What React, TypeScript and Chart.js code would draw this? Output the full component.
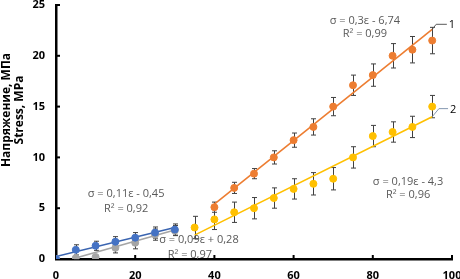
import React, { useEffect, useRef } from "react";
import { Chart, registerables } from "chart.js";

Chart.register(...registerables);

// Series 1 (orange)
const strain1 = [40, 45, 50, 55, 60, 65, 70, 75, 80, 85, 90, 95];
const stress1 = [5.1, 7.0, 8.4, 10.0, 11.7, 13.0, 15.0, 17.1, 18.1, 20.0, 20.6, 21.5];
const err1 = [0.5, 0.55, 0.5, 0.65, 0.7, 0.8, 0.9, 1.0, 1.1, 1.2, 1.3, 1.3];
const trendX1 = [40, 95];
const trendY1 = [5.4, 22.6];

// Series 2 (yellow)
const strain2 = [35, 40, 45, 50, 55, 60, 65, 70, 75, 80, 85, 90, 95];
const stress2 = [3.1, 3.9, 4.6, 5.0, 6.0, 6.9, 7.4, 7.9, 10.0, 12.1, 12.5, 13.0, 15.0];
const err2 = [1.1, 1.0, 1.0, 1.05, 1.0, 1.0, 1.1, 1.1, 1.05, 1.05, 1.0, 1.05, 1.1];
const trendX2 = [35, 95];
const trendY2 = [2.35, 14.0];

// Series 3 (blue)
const strain3 = [0, 5, 10, 15, 20, 25, 30];
const stress3 = [0, 0.9, 1.3, 1.7, 2.1, 2.6, 2.9];
const err3 = [0, 0.5, 0.45, 0.5, 0.5, 0.55, 0.55];
const trendX3 = [0, 30];
const trendY3 = [0.25, 3.1];

// Series 4 (gray)
const strain4 = [0, 5, 10, 15, 20, 25, 30];
const stress4 = [0, 0.1, 0.2, 1.1, 1.6, 2.4, 2.8];
const err4 = [0, 0.15, 0.15, 0.5, 0.6, 0.55, 0.5];
const trendX4 = [4.5, 30];
const trendY4 = [0.05, 2.85];

const xTicks = [0, 20, 40, 60, 80, 100];
const yTicks = [0, 5, 10, 15, 20, 25];

const yTitle = ["Напряжение, МПа", "Stress, MPa"];

// equation labels: text, anchor x, anchor y (data units)
const eqTexts = ["σ = 0,3ε - 6,74", "R² = 0,99", "σ = 0,11ε - 0,45", "R² = 0,92", "σ = 0,09ε + 0,28", "R² = 0,97", "σ = 0,19ε - 4,3", "R² = 0,96"];
const eqX = [78, 78, 17.7, 17.7, 36.1, 33.8, 88.9, 88.9];
const eqY = [23.4, 22.15, 6.4, 4.9, 1.85, 0.4, 7.55, 6.3];

const toPts = (xs: number[], ys: number[]) => xs.map((x, i) => ({ x, y: ys[i] }));

const ORANGE = "#ED7D31";
const YELLOW = "#FFC000";
const BLUE = "#4472C4";
const GRAY = "#A5A5A5";
const FONT = "'Open Sans', 'DejaVu Sans', sans-serif";

export default function App() {
  const ref = useRef<HTMLCanvasElement | null>(null);

  useEffect(() => {
    if (!ref.current) return;

    const errSets = [
      { xs: strain1, ys: stress1, es: err1 },
      { xs: strain2, ys: stress2, es: err2 },
      { xs: strain3, ys: stress3, es: err3 },
      { xs: strain4, ys: stress4, es: err4 },
    ];

    const plugin = {
      id: "extras",
      beforeDatasetsDraw(chart: any) {
        const { ctx, scales } = chart;
        const sx = scales.x, sy = scales.y;
        ctx.save();
        ctx.strokeStyle = "#404040";
        ctx.lineWidth = 1;
        errSets.forEach((s) => {
          s.xs.forEach((xv, i) => {
            const e = s.es[i];
            if (!e) return;
            const px = Math.round(sx.getPixelForValue(xv)) + 0.5;
            const t = sy.getPixelForValue(s.ys[i] + e);
            const b = sy.getPixelForValue(Math.max(0, s.ys[i] - e));
            ctx.beginPath();
            ctx.moveTo(px, t);
            ctx.lineTo(px, b);
            ctx.moveTo(px - 2.5, t);
            ctx.lineTo(px + 2.5, t);
            ctx.moveTo(px - 2.5, b);
            ctx.lineTo(px + 2.5, b);
            ctx.stroke();
          });
        });
        ctx.restore();
      },
      afterDraw(chart: any) {
        const { ctx, scales, chartArea } = chart;
        const sx = scales.x, sy = scales.y;
        ctx.save();
        // inside tick marks
        ctx.strokeStyle = "#000";
        ctx.lineWidth = 2;
        xTicks.forEach((v) => {
          const px = sx.getPixelForValue(v);
          if (v === 0) return;
          ctx.beginPath();
          ctx.moveTo(px, chartArea.bottom);
          ctx.lineTo(px, chartArea.bottom - 4);
          ctx.stroke();
        });
        yTicks.forEach((v) => {
          const py = sy.getPixelForValue(v);
          if (v === 0) return;
          ctx.beginPath();
          ctx.moveTo(chartArea.left, py);
          ctx.lineTo(chartArea.left + 4, py);
          ctx.stroke();
        });

        // equations
        ctx.fillStyle = "#595959";
        ctx.font = `11px ${FONT}`;
        ctx.textAlign = "center";
        ctx.textBaseline = "middle";
        eqTexts.forEach((t, i) => {
          ctx.fillText(t, sx.getPixelForValue(eqX[i]), sy.getPixelForValue(eqY[i]));
        });

        // callouts
        const callout = (x0: number, y0: number, x1: number, y1: number, x2: number, label: string, color: string) => {
          ctx.strokeStyle = color;
          ctx.lineWidth = 1;
          ctx.beginPath();
          ctx.moveTo(sx.getPixelForValue(x0), sy.getPixelForValue(y0));
          ctx.lineTo(sx.getPixelForValue(x1), sy.getPixelForValue(y1));
          ctx.lineTo(sx.getPixelForValue(x2), sy.getPixelForValue(y1));
          ctx.stroke();
          ctx.fillStyle = "#000";
          ctx.textAlign = "left";
          ctx.fillText(label, sx.getPixelForValue(x2) + 2, sy.getPixelForValue(y1) + 1);
        };
        callout(trendX1[1], trendY1[1], 96, 23.1, 98.7, "1", "#595959");
        callout(trendX2[1], trendY2[1], 96.7, 14.8, 99, "2", "#8497B0");

        // y title
        ctx.fillStyle = "#000";
        ctx.font = `bold 12px ${FONT}`;
        ctx.textAlign = "center";
        ctx.textBaseline = "middle";
        ctx.translate(0, 110);
        ctx.rotate(-Math.PI / 2);
        ctx.fillText(yTitle[0], 0, 7);
        ctx.fillText(yTitle[1], 0, 20);
        ctx.restore();
      },
    };

    const markerDs = (label: string, xs: number[], ys: number[], color: string) => ({
      type: "scatter" as const,
      label,
      data: toPts(xs, ys),
      backgroundColor: color,
      borderColor: color,
      pointRadius: 3.5,
      pointBorderWidth: 1,
      showLine: false,
      order: 1,
    });
    const trendDs = (label: string, xs: number[], ys: number[], color: string) => ({
      type: "scatter" as const,
      label,
      data: toPts(xs, ys),
      borderColor: color,
      backgroundColor: color,
      borderWidth: 1.6,
      pointRadius: 0,
      showLine: true,
      order: 2,
    });

    const chart = new Chart(ref.current, {
      type: "scatter",
      data: {
        datasets: [
          markerDs("1", strain1, stress1, ORANGE),
          markerDs("2", strain2, stress2, YELLOW),
          markerDs("3", strain3, stress3, BLUE),
          markerDs("4", strain4, stress4, GRAY),
          trendDs("t1", trendX1, trendY1, ORANGE),
          trendDs("t2", trendX2, trendY2, YELLOW),
          trendDs("t3", trendX3, trendY3, "#3A64B0"),
          trendDs("t4", trendX4, trendY4, GRAY),
        ] as any,
      },
      options: {
        animation: false,
        responsive: false,
        layout: { padding: { left: 0, right: 8, top: 4, bottom: 0 } },
        plugins: { legend: { display: false }, tooltip: { enabled: false }, title: { display: false } },
        scales: {
          x: {
            type: "linear",
            min: 0,
            max: 100,
            afterBuildTicks: (s: any) => { s.ticks = xTicks.map((v) => ({ value: v })); },
            ticks: { color: "#000", font: { family: FONT, size: 11, weight: "bold" }, padding: 10, maxRotation: 0 },
            grid: { display: false, drawTicks: false },
            border: { display: true, color: "#000", width: 2.5 },
            afterFit: (s: any) => { s.height = 20; s.paddingLeft = 0; s.paddingRight = 0; },
          },
          y: {
            type: "linear",
            min: 0,
            max: 25,
            afterBuildTicks: (s: any) => { s.ticks = yTicks.map((v) => ({ value: v })); },
            ticks: { color: "#000", font: { family: FONT, size: 11, weight: "bold" }, padding: 11 },
            grid: { display: false, drawTicks: false },
            border: { display: true, color: "#000", width: 2.5 },
            afterFit: (s: any) => { s.width = 56; s.paddingTop = 0; s.paddingBottom = 0; },
          },
        },
      } as any,
      plugins: [plugin],
    });
    return () => chart.destroy();
  }, []);

  return (
    <div style={{ position: "fixed", left: 0, top: 0, width: 460, height: 279, background: "#fff" }}>
      <canvas ref={ref} width={460} height={279} style={{ width: 460, height: 279, display: "block" }} />
    </div>
  );
}
